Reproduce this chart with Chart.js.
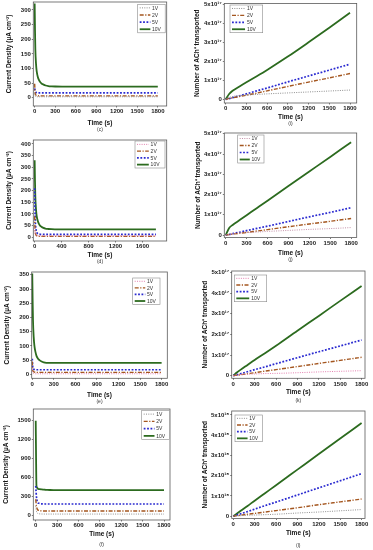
<!DOCTYPE html>
<html>
<head>
<meta charset="utf-8">
<script src="https://cdn.jsdelivr.net/npm/chart.js@4.4.0/dist/chart.umd.min.js"></script>
<style>
  body { margin: 0; background: #fff; }
  #fig { position: relative; width: 373px; height: 550px; overflow: hidden; background: #fff; }
  #fig canvas { position: absolute; }
  .lab { position: absolute; font: 5px "Liberation Sans", Arial, sans-serif; color: #333; transform: translate(-50%, -50%); white-space: nowrap; }
</style>
</head>
<body>
<div id="fig"></div>
<script>
// time points (s)
const tCur = [0, 5, 10, 20, 30, 45, 60, 80, 100, 130, 160, 200, 250, 300, 400, 600, 800, 1000, 1200, 1400, 1600, 1800];
const tNum = [0, 50, 100, 200, 300, 450, 600, 900, 1200, 1500, 1800];

// (c) current density, µA cm-2
const c1V  = [15, 8, 5, 4, 3.5, 3.5, 3.5, 3.5, 3.5, 3.5, 3.5, 3.5, 3.5, 3.5, 3.5, 3.5, 3.5, 3.5, 3.5, 3.5, 3.5, 3.5];
const c2V  = [48, 22, 13, 9, 7.5, 7, 6.5, 6.5, 6.5, 6.5, 6.5, 6.5, 6.5, 6.5, 6.5, 6.5, 6.5, 6.5, 6.5, 6.5, 6.5, 6.5];
const c5V  = [32, 25, 21, 18.5, 17.5, 17, 17, 17, 17, 17, 17, 17, 17, 17, 17, 17, 17, 17, 17, 17, 17, 17];
const c10V = [322, 230, 165, 115, 90, 72, 62, 54, 49, 45, 42, 40, 39, 38.5, 38, 38, 38, 38, 38, 38, 38, 38];

// (d)
const d1V  = [40, 20, 12, 8, 7, 6.5, 6.5, 6.5, 6.5, 6.5, 6.5, 6.5, 6.5, 6.5, 6.5, 6.5, 6.5, 6.5, 6.5, 6.5, 6.5, 6.5];
const d2V  = [90, 40, 20, 10, 7, 5, 4.5, 4, 4, 4, 4, 4, 4, 4, 4, 4, 4, 4, 4, 4, 4, 4];
const d5V  = [210, 120, 70, 35, 22, 16, 14, 13, 12, 12, 12, 12, 12, 12, 12, 12, 12, 12, 12, 12, 12, 12];
const d10V = [330, 240, 175, 120, 92, 72, 60, 50, 45, 40, 37, 35.5, 34.5, 34, 34, 34, 34, 34, 34, 34, 34, 34];

// (e)
const e1V  = [20, 8, 5, 3, 2.5, 2, 2, 2, 2, 2, 2, 2, 2, 2, 2, 2, 2, 2, 2, 2, 2, 2];
const e2V  = [45, 20, 12, 9, 8, 7, 7, 7, 7, 7, 7, 7, 7, 7, 7, 7, 7, 7, 7, 7, 7, 7];
const e5V  = [55, 30, 22, 18, 17, 16, 16, 16, 16, 16, 16, 16, 16, 16, 16, 16, 16, 16, 16, 16, 16, 16];
const e10V = [355, 260, 190, 130, 100, 78, 64, 55, 50, 45, 42, 40.5, 40, 40, 40, 40, 40, 40, 40, 40, 40, 40];

// (f)
const f1V  = [150, 100, 70, 45, 35, 30, 28, 27, 26, 26, 26, 26, 26, 26, 26, 26, 26, 26, 26, 26, 26, 26];
const f2V  = [260, 200, 150, 110, 90, 82, 78, 76, 75, 75, 75, 75, 75, 75, 75, 75, 75, 75, 75, 75, 75, 75];
const f5V  = [470, 380, 300, 230, 205, 195, 190, 187, 186, 185, 185, 185, 185, 185, 185, 185, 185, 185, 185, 185, 185, 185];
const f10V = [1500, 900, 480, 440, 425, 420, 418, 415, 412, 410, 408, 406, 405, 405, 405, 405, 405, 405, 405, 405, 405, 405];

// (i) number of ACh+ transported, x10^17
const i1V  = [0, 0.1, 0.15, 0.2, 0.23, 0.26, 0.29, 0.34, 0.39, 0.44, 0.49];
const i2V  = [0, 0.05, 0.08, 0.15, 0.22, 0.33, 0.45, 0.68, 0.91, 1.13, 1.36];
const i5V  = [0, 0.04, 0.09, 0.19, 0.29, 0.45, 0.6, 0.92, 1.23, 1.54, 1.85];
const i10V = [0, 0.28, 0.45, 0.68, 0.9, 1.22, 1.55, 2.25, 3.0, 3.77, 4.55];

// (j) x10^17
const j1V  = [0, 0.04, 0.07, 0.1, 0.12, 0.15, 0.18, 0.23, 0.28, 0.32, 0.37];
const j2V  = [0, 0.03, 0.05, 0.09, 0.13, 0.2, 0.27, 0.41, 0.55, 0.68, 0.82];
const j5V  = [0, 0.03, 0.07, 0.14, 0.22, 0.33, 0.44, 0.67, 0.9, 1.12, 1.35];
const j10V = [0, 0.35, 0.5, 0.74, 0.98, 1.34, 1.7, 2.42, 3.14, 3.86, 4.58];

// (k) x10^17
const k1V  = [0, 0.03, 0.05, 0.07, 0.08, 0.1, 0.11, 0.14, 0.18, 0.21, 0.24];
const k2V  = [0, 0.02, 0.04, 0.09, 0.14, 0.22, 0.29, 0.44, 0.59, 0.74, 0.89];
const k5V  = [0, 0.04, 0.09, 0.19, 0.29, 0.43, 0.58, 0.87, 1.16, 1.44, 1.73];
const k10V = [0, 0.15, 0.28, 0.52, 0.76, 1.1, 1.45, 2.18, 2.9, 3.63, 4.35];

// (l) x10^18
const l1V  = [0, 0.02, 0.03, 0.05, 0.06, 0.08, 0.1, 0.16, 0.21, 0.27, 0.33];
const l2V  = [0, 0.03, 0.05, 0.1, 0.14, 0.21, 0.28, 0.42, 0.57, 0.71, 0.85];
const l5V  = [0, 0.06, 0.12, 0.23, 0.35, 0.53, 0.7, 1.05, 1.4, 1.75, 2.1];
const l10V = [0, 0.13, 0.26, 0.51, 0.77, 1.15, 1.53, 2.3, 3.07, 3.83, 4.6];

// tick labels
const xTicks300 = [0, 300, 600, 900, 1200, 1500, 1800];
const xTicks400 = [0, 400, 800, 1200, 1600];
const yTicksC = [0, 50, 100, 150, 200, 250, 300];
const yTicksD = [0, 50, 100, 150, 200, 250, 300, 350, 400];
const yTicksE = [0, 50, 100, 150, 200, 250, 300, 350];
const yTicksF = [0, 300, 600, 900, 1200, 1500];
const yTicksN = [0, 1, 2, 3, 4, 5];
const seriesNames = ['1V', '2V', '5V', '10V'];

const titleCD = 'Current Density (µA cm⁻²)';
const titleN = 'Number of ACh⁺ transported';

const FONT = '"Liberation Sans", Arial, sans-serif';
const grey1V = '#8e8e8e', pink1V = '#e27fae';

// canvas: [left, top, width, height]; box: plot frame [l, t, r, b]; legend: [l, t, w, h] (page px)
const panels = [
  { canvas: [5, 0, 168, 127], box: [33.3, 2, 166.7, 106], x: [-20, 1930], y: [-28, 327], xt: xTicks300, yt: yTicksC,
    t: tCur, data: [c1V, c2V, c5V, c10V], one: grey1V, yTitle: titleCD, exp: null, legend: [137.7, 4.3, 27.5, 28.5], tag: '(c)', tagPos: [100, 128.5] },
  { canvas: [193, 0, 180, 121], box: [224.3, 3.5, 356.7, 103], x: [-20, 1897], y: [-0.19, 5.04], xt: xTicks300, yt: yTicksN,
    t: tNum, data: [i1V, i2V, i5V, i10V], one: grey1V, yTitle: titleN, exp: '¹⁷', legend: [230, 5, 32.7, 27.7], tag: '(i)', tagPos: [290.5, 122.7] },
  { canvas: [5, 130, 168, 129], box: [33.3, 140, 166.7, 241], x: [-20, 1960], y: [-16, 417], xt: xTicks400, yt: yTicksD,
    t: tCur, data: [d1V, d2V, d5V, d10V], one: pink1V, yTitle: titleCD, exp: null, legend: [135, 141, 30, 27], tag: '(d)', tagPos: [100, 261] },
  { canvas: [194, 125, 179, 132], box: [224.3, 133, 356.7, 237.5], x: [-20, 1880], y: [-0.12, 5.04], xt: xTicks300, yt: yTicksN,
    t: tNum, data: [j1V, j2V, j5V, j10V], one: '#c491a8', yTitle: titleN, exp: '¹⁷', legend: [237.7, 135, 26.3, 28], tag: '(j)', tagPos: [290.5, 258.5] },
  { canvas: [3, 262, 170, 137], box: [31.7, 272, 167.3, 378.3], x: [-8, 1879], y: [-14, 360], xt: xTicks300, yt: yTicksE,
    t: tCur, data: [e1V, e2V, e5V, e10V], one: pink1V, yTitle: titleCD, exp: null, legend: [132.7, 278, 27.3, 26.3], tag: '(e)', tagPos: [99.5, 400.5] },
  { canvas: [201, 262, 172, 134], box: [231.7, 271, 365, 378.3], x: [-22, 1848], y: [-0.13, 5.08], xt: xTicks300, yt: yTicksN,
    t: tNum, data: [k1V, k2V, k5V, k10V], one: pink1V, yTitle: titleN, exp: '¹⁷', legend: [234.3, 275, 32.4, 26.7], tag: '(k)', tagPos: [298.3, 400] },
  { canvas: [2, 400, 174, 138], box: [33.3, 409, 170, 520], x: [-34, 1884], y: [-68, 1685], xt: xTicks300, yt: yTicksF,
    t: tCur, data: [f1V, f2V, f5V, f10V], one: grey1V, yTitle: titleCD, exp: null, legend: [141.7, 410.5, 27.8, 29], tag: '(f)', tagPos: [101.7, 543.5] },
  { canvas: [201, 400, 172, 137], box: [231.7, 411, 365, 518.5], x: [-22, 1848], y: [-0.11, 5.19], xt: xTicks300, yt: yTicksN,
    t: tNum, data: [l1V, l2V, l5V, l10V], one: grey1V, yTitle: titleN, exp: '¹⁸', legend: [235, 415, 27.3, 26.7], tag: '(l)', tagPos: [298.3, 545] }
];

// frame + inset legend
const frameLegend = {
  id: 'frameLegend',
  afterDraw(chart, args, o) {
    const ctx = chart.ctx, a = chart.chartArea;
    ctx.save();
    ctx.setLineDash([]);
    ctx.strokeStyle = '#5a5a5a';
    ctx.lineWidth = 0.8;
    ctx.strokeRect(a.left, a.top, a.right - a.left, a.bottom - a.top);
    const [lx, ly, lw, lh] = o.rect;
    ctx.fillStyle = '#fff';
    ctx.fillRect(lx, ly, lw, lh);
    ctx.strokeStyle = '#8a8a8a';
    ctx.lineWidth = 0.6;
    ctx.strokeRect(lx, ly, lw, lh);
    const rh = lh / chart.data.datasets.length;
    ctx.font = '5px ' + FONT;
    ctx.textBaseline = 'middle';
    chart.data.datasets.forEach((ds, i) => {
      const cy = ly + rh * (i + 0.5);
      ctx.strokeStyle = ds.borderColor;
      ctx.lineWidth = ds.borderWidth;
      ctx.setLineDash(ds.borderDash);
      ctx.beginPath();
      ctx.moveTo(lx + 2, cy);
      ctx.lineTo(lx + lw * 0.46, cy);
      ctx.stroke();
      ctx.setLineDash([]);
      ctx.fillStyle = '#333';
      ctx.fillText(ds.label, lx + lw * 0.52, cy + 0.3);
    });
    ctx.restore();
  }
};

const fig = document.getElementById('fig');

panels.forEach(p => {
  const [cl, ct, cw, chh] = p.canvas;
  const [bl, bt, br, bb] = p.box;
  const cv = document.createElement('canvas');
  cv.width = cw; cv.height = chh;
  cv.style.left = cl + 'px'; cv.style.top = ct + 'px';
  cv.style.width = cw + 'px'; cv.style.height = chh + 'px';
  fig.appendChild(cv);

  const yW = bl - cl, xH = ct + chh - bb;
  const padTop = bt - ct, padRight = cl + cw - br;

  const styles = [
    { color: p.one, width: 1, dash: [1, 1.3] },
    { color: '#a4561f', width: 1.4, dash: [4, 1.5, 1.2, 1.5] },
    { color: '#2a2ad0', width: 1.7, dash: [1.8, 1.6] },
    { color: '#2c6b1f', width: 1.8, dash: [] }
  ];

  const datasets = p.data.map((vals, k) => ({
    label: seriesNames[k],
    data: p.t.map((t, n) => ({ x: t, y: vals[n] })),
    borderColor: styles[k].color,
    borderWidth: styles[k].width,
    borderDash: styles[k].dash,
    pointRadius: 0,
    fill: false,
    cubicInterpolationMode: 'monotone'
  }));

  const tickFont = { family: FONT, size: 6, weight: 'bold' };
  const titleFont = { family: FONT, size: 6.5, weight: 'bold' };

  new Chart(cv, {
    type: 'line',
    data: { datasets },
    plugins: [frameLegend],
    options: {
      responsive: false,
      animation: false,
      devicePixelRatio: 1,
      events: [],
      layout: { padding: { top: padTop, right: padRight, bottom: 0, left: 0 } },
      plugins: {
        legend: { display: false },
        tooltip: { enabled: false },
        frameLegend: { rect: [p.legend[0] - cl, p.legend[1] - ct, p.legend[2], p.legend[3]] }
      },
      scales: {
        x: {
          type: 'linear',
          min: p.x[0], max: p.x[1],
          afterBuildTicks: s => { s.ticks = p.xt.map(v => ({ value: v })); },
          afterFit: s => { s.height = xH; s.paddingLeft = 0; s.paddingRight = 0; },
          grid: { drawOnChartArea: false, tickLength: 1.5, color: '#444', lineWidth: 0.7 },
          border: { display: false },
          ticks: { font: tickFont, color: '#222', padding: 0.5, maxRotation: 0, autoSkip: false, callback: v => String(v) },
          title: { display: true, text: 'Time (s)', font: titleFont, color: '#111', padding: 0 }
        },
        y: {
          min: p.y[0], max: p.y[1],
          afterBuildTicks: s => { s.ticks = p.yt.map(v => ({ value: v })); },
          afterFit: s => { s.width = yW; s.paddingTop = 0; s.paddingBottom = 0; },
          grid: { drawOnChartArea: false, tickLength: 1.5, color: '#444', lineWidth: 0.7 },
          border: { display: false },
          ticks: {
            font: tickFont, color: '#222', padding: 1, autoSkip: false,
            callback: v => (v === 0 || !p.exp) ? String(v) : v + 'x10' + p.exp
          },
          title: { display: true, text: p.yTitle, font: titleFont, color: '#111', padding: 0 }
        }
      }
    }
  });

  const tag = document.createElement('div');
  tag.className = 'lab';
  tag.textContent = p.tag;
  tag.style.left = p.tagPos[0] + 'px';
  tag.style.top = p.tagPos[1] + 'px';
  fig.appendChild(tag);
});
</script>
</body>
</html>
